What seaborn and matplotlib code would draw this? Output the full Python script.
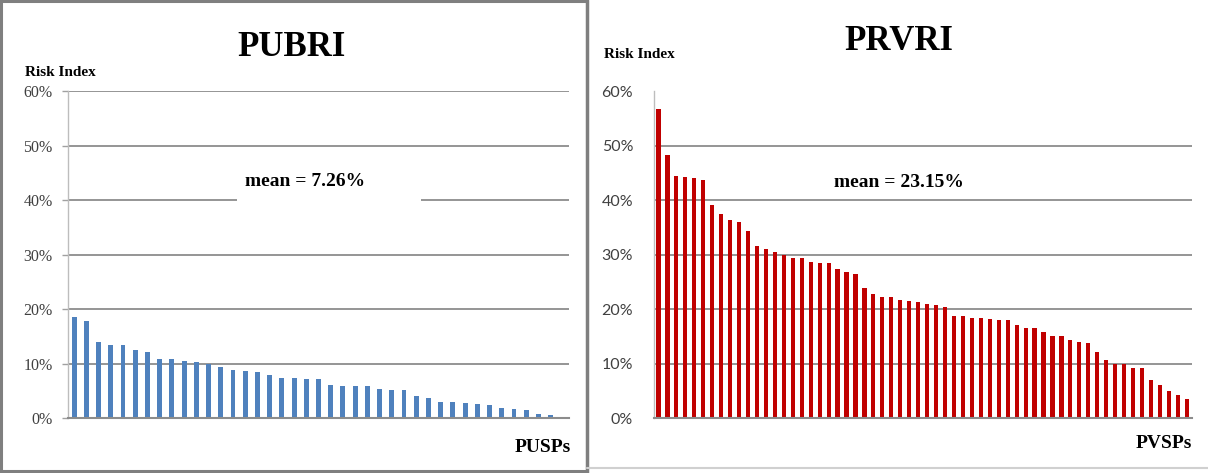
import matplotlib
matplotlib.use("Agg")
import matplotlib.pyplot as plt
from matplotlib.patches import Rectangle
from matplotlib.lines import Line2D
import seaborn as sns

# Risk index per service provider (percent), sorted descending
pubri_values = [18.6, 17.8, 14.0, 13.4, 13.4, 12.5, 12.1, 10.9, 10.9, 10.4,
                10.2, 9.9, 9.4, 8.8, 8.6, 8.4, 7.8, 7.3, 7.3, 7.1,
                7.1, 6.1, 5.8, 5.8, 5.8, 5.4, 5.2, 5.2, 4.0, 3.7,
                2.9, 2.9, 2.7, 2.5, 2.3, 1.9, 1.7, 1.5, 0.8, 0.6]
prvri_values = [56.7, 48.3, 44.4, 44.2, 44.0, 43.6, 39.1, 37.4, 36.4, 35.9,
                34.3, 31.5, 31.0, 30.4, 30.0, 29.4, 29.4, 28.6, 28.4, 28.4,
                27.4, 26.7, 26.5, 23.9, 22.7, 22.2, 22.2, 21.6, 21.4, 21.2,
                21.0, 20.7, 20.3, 18.8, 18.8, 18.4, 18.4, 18.2, 18.0, 18.0,
                17.0, 16.6, 16.6, 15.7, 15.1, 15.1, 14.3, 13.9, 13.7, 12.1,
                10.6, 9.9, 9.9, 9.1, 9.1, 7.0, 6.1, 4.9, 4.2, 3.4]
titles = ["PUBRI", "PRVRI"]
mean_labels = ["mean = 7.26%", "mean = 23.15%"]
x_labels = ["PUSPs", "PVSPs"]
y_label = "Risk Index"
y_ticks = [0, 10, 20, 30, 40, 50, 60]
y_tick_labels = ["0%", "10%", "20%", "30%", "40%", "50%", "60%"]

W, H = 1208, 473
sns.set_theme(style="white")
plt.rcParams["font.family"] = ["Liberation Serif", "DejaVu Serif"]

fig = plt.figure(figsize=(W / 100, H / 100), dpi=100)
fig.patch.set_facecolor("white")


def fx(px):
    return px / W


def fy(py):
    return 1 - py / H


grid_col = "#8c8c8c"
serif = ["Liberation Serif", "DejaVu Serif"]


def style_axis(ax, n_slots, tick_len, tick_font, tick_pad, show_top_grid):
    ax.set_xlim(-0.5, n_slots - 0.5)
    ax.set_ylim(0, 60)
    ax.set_xticks([])
    ax.set_xlabel("")
    ax.set_ylabel("")
    ax.set_yticks(y_ticks)
    ax.set_yticklabels(y_tick_labels, family=tick_font, fontsize=11.5, color="#404040")
    ax.tick_params(axis="y", length=tick_len, width=1, color="#a0a0a0",
                   pad=tick_pad, left=True, direction="out")
    ax.set_axisbelow(True)
    ax.yaxis.grid(True, color=grid_col, linewidth=1.3)
    ax.xaxis.grid(False)
    gl = ax.get_ygridlines()
    if not show_top_grid:
        gl[-1].set_visible(False)
    for s in ("top", "right"):
        ax.spines[s].set_visible(False)
    ax.spines["left"].set_color("#bdbdbd")
    ax.spines["left"].set_linewidth(1.0)
    ax.spines["bottom"].set_color(grid_col)
    ax.spines["bottom"].set_linewidth(1.5)
    ax.set_facecolor("white")


# Left panel: public service providers
ax1 = fig.add_axes([fx(68), 1 - 418 / H, fx(569 - 68), (418 - 91) / H])
sns.barplot(x=list(range(len(pubri_values))), y=pubri_values, color="#4F81BD",
            saturation=1, width=0.40, errorbar=None, ax=ax1, zorder=2,
            linewidth=0)
style_axis(ax1, 41, 4, ["Liberation Serif", "DejaVu Serif"], 7, True)

# White box behind the mean label breaks the 40% gridline
ax1.add_patch(Rectangle(((237 - 68) / 501, (418 - 203) / 327), (421 - 237) / 501,
                        (203 - 165) / 327, transform=ax1.transAxes,
                        facecolor="white", edgecolor="none", zorder=1.5))

# Right panel: private service providers
ax2 = fig.add_axes([fx(654), 1 - 418 / H, fx(1192 - 654), (418 - 91) / H])
sns.barplot(x=list(range(len(prvri_values))), y=prvri_values, color="#C00000",
            saturation=1, width=0.47, errorbar=None, ax=ax2, zorder=2,
            linewidth=0)
style_axis(ax2, 60.08, 0, ["Lato", "DejaVu Sans"], 15, False)

# Titles and annotations
fig.text(fx(291), fy(47), titles[0], ha="center", va="center",
         family=serif, fontweight="bold", fontsize=25, color="black")
fig.text(fx(899), fy(42), titles[1], ha="center", va="center",
         family=serif, fontweight="bold", fontsize=25, color="black")

fig.text(fx(25), fy(73), y_label, ha="left", va="center",
         family=serif, fontweight="bold", fontsize=11, color="black")
fig.text(fx(604), fy(54), y_label, ha="left", va="center",
         family=serif, fontweight="bold", fontsize=11, color="black")

fig.text(fx(305), fy(181), mean_labels[0], ha="center", va="center",
         family=serif, fontweight="bold", fontsize=14, color="black")
fig.text(fx(899), fy(182), mean_labels[1], ha="center", va="center",
         family=serif, fontweight="bold", fontsize=14, color="black")

fig.text(fx(571), fy(447), x_labels[0], ha="right", va="center",
         family=serif, fontweight="bold", fontsize=14, color="black")
fig.text(fx(1192), fy(443), x_labels[1], ha="right", va="center",
         family=serif, fontweight="bold", fontsize=14, color="black")

# Panel frames
frame_col = "#7f7f7f"
for xs, ys, col, lw in [
    ([1, 1], [0, H], frame_col, 2.2),
    ([0, 587], [1, 1], frame_col, 2.2),
    ([587, 587], [0, H], frame_col, 2.5),
    ([0, 587], [471, 471], frame_col, 2.2),
    ([587, W], [468, 468], "#d0d0d0", 1.5),
]:
    fig.add_artist(Line2D([fx(x) for x in xs], [fy(y) for y in ys],
                          color=col, linewidth=lw, transform=fig.transFigure))

fig.savefig("out.png", dpi=100, facecolor="white")
